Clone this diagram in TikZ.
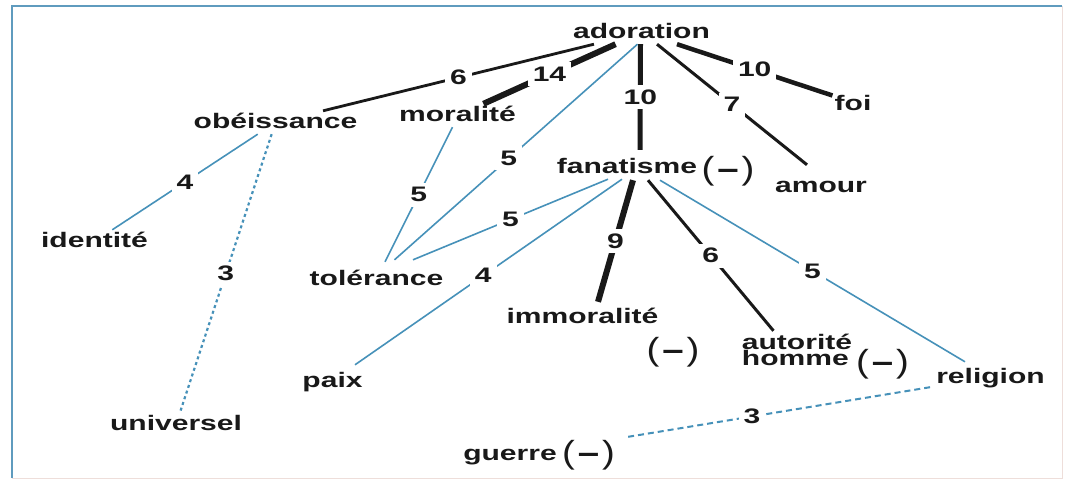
\documentclass[tikz,border=0pt]{standalone}
\usepackage{fontspec}
\usetikzlibrary{calc}
\newfontfamily\diafont{Liberation Sans}[FakeStretch=1.43]
\newfontfamily\negfont{Liberation Sans}[FakeStretch=1.2]
\definecolor{edgeblue}{RGB}{70,145,185}
\definecolor{framec}{RGB}{95,155,190}
\definecolor{framelight}{RGB}{238,222,218}
\definecolor{ink}{RGB}{25,25,25}
\newcommand{\negsign}{(\hspace{3pt}{\bfseries –}\hspace{3pt})}
\tikzset{
  word/.style={anchor=base, inner sep=2pt, text height=15pt, text depth=4pt, text=ink,
    font=\diafont\fontsize{21}{24}\selectfont\bfseries},
  negmark/.style={anchor=base, inner sep=1pt, text height=24pt, text depth=7pt, text=ink,
    font=\negfont\fontsize{32}{32}\selectfont},
  wlab/.style={fill=white, inner sep=5pt, text height=14pt, text depth=0pt, text=ink,
    font=\diafont\fontsize{21}{24}\selectfont\bfseries},
  thinblue/.style={draw=edgeblue, line width=1.6pt},
  dotblue/.style={draw=edgeblue, line width=2.2pt, dash pattern=on 3pt off 3pt},
  dashblue/.style={draw=edgeblue, line width=2pt, dash pattern=on 6pt off 4pt},
  heavy/.style={draw=ink, line width=#1},
  heavy/.default=3pt,
}
\begin{document}
\begin{tikzpicture}[x=1pt,y=-1pt]
\fill[white] (0,0) rectangle (1066,482);
\useasboundingbox (0,0) rectangle (1066,482);
% frame
\draw[framelight, line width=1pt] (12,478) -- (1062,478) -- (1062,6);
\draw[framec, line width=2.5pt] (12,478) -- (12,6) -- (1062,6);
% nodes
\node[word] (ado) at (641.5,38) {adoration};
\node[word] (obe) at (275.5,128) {obéissance};
\node[word] (mor) at (457.5,121) {moralité};
\node[word] (fan) at (627,173) {fanatisme};
\node[negmark] (fanneg) at (728,179.5) {\negsign};
\node[word] (amour) at (821,192) {amour};
\node[word] (foi) at (853,110) {foi};
\node[word] (ide) at (94.5,247) {identité};
\node[word] (tol) at (376.5,285) {tolérance};
\node[word] (imm) at (582.5,323) {immoralité};
\node[negmark] (immneg) at (673,360) {\negsign};
\node[word, text depth=20pt] (aut) at (797,349)
  {\vtop{\baselineskip=16.5pt\lineskiplimit=-100pt\hbox{autorité}\hbox{homme}}};
\node[negmark] (autneg) at (882.5,372) {\negsign};
\node[word] (rel) at (990.5,383) {religion};
\node[word] (paix) at (332.5,387) {paix};
\node[word] (uni) at (176,430) {universel};
\node[word] (gue) at (510,460) {guerre};
\node[negmark] (gueneg) at (588.5,463) {\negsign};
% edges
\draw[heavy=2.8pt] (ado) -- node[wlab]{6} (obe);
\draw[heavy=6pt] (ado) -- node[wlab]{14} (mor);
\draw[thinblue] ($(ado.south)+(-4,0)$) -- node[wlab,pos=0.53]{5} ($(tol.north)+(18,-8)$);
\draw[heavy=5pt] ($(ado.south)+(-1,0)$) -- node[wlab]{10} ($(fan.north)+(13,-6)$);
\draw[heavy=3pt] ($(ado.south)+(15.5,0)$) -- node[wlab]{7} ($(amour.north)+(-14,-10)$);
\draw[heavy=4.5pt] ($(ado.south)+(35.5,0)$) -- node[wlab]{10} ($(foi.west)+(0,-9)$);
\draw[thinblue] (obe) -- node[wlab]{4} (ide);
\draw[dotblue] (obe) -- node[wlab]{3} (uni);
\draw[thinblue] ($(mor.south)+(-5,0)$) -- node[wlab]{5} ($(tol.north)+(8.5,-6)$);
\draw[thinblue] ($(fan.south)+(-19,0)$) -- node[wlab]{5} ($(tol.north)+(36.5,-8)$);
\draw[thinblue] ($(fan.south)+(-5,0)$) -- node[wlab,pos=0.52]{4} ($(paix.north)+(22.5,-5)$);
\draw[heavy=6pt] ($(fan.south)+(6,1)$) -- node[wlab]{9} ($(imm.north)+(15.5,-4)$);
\draw[heavy=3pt] ($(fan.south)+(21,1)$) -- node[wlab]{6} ($(aut.north)+(-23.5,-1)$);
\draw[thinblue] ($(fan.south)+(33,1)$) -- node[wlab]{5} ($(rel.north)+(-25.5,-4)$);
\draw[dashblue] ($(rel.south west)+(-4,-2)$) -- node[wlab,pos=0.59]{3} ($(gueneg.north east)+(12,-1)$);
\end{tikzpicture}
\end{document}
